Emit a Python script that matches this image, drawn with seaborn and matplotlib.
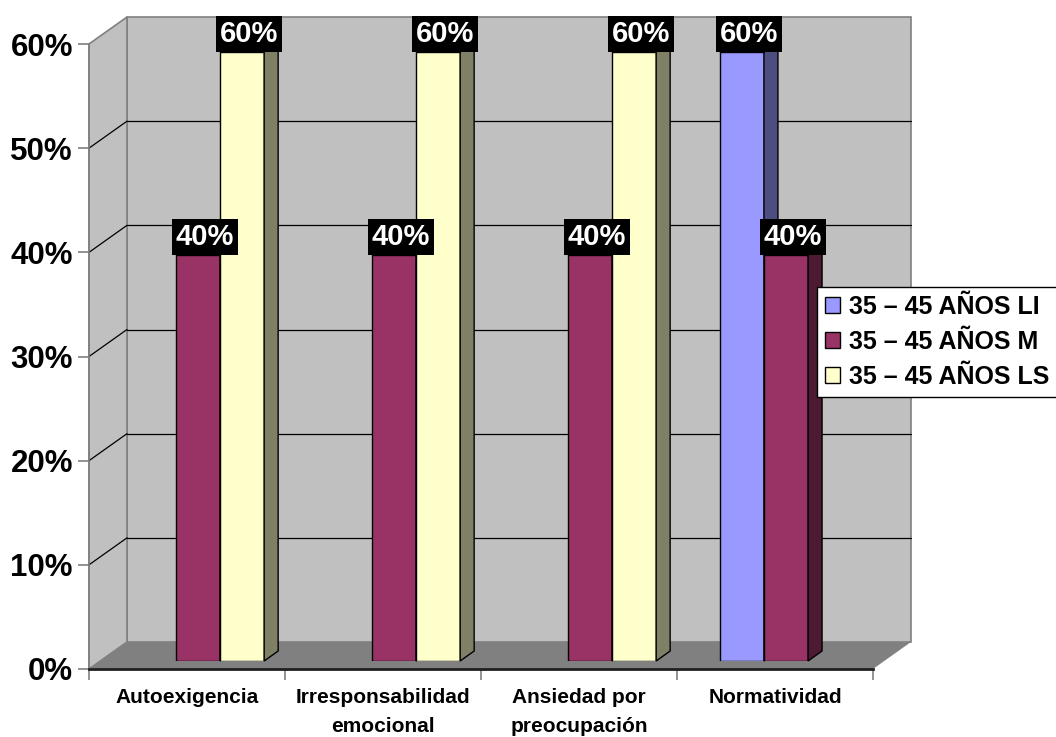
# -*- coding: utf-8 -*-
# Imports
import numpy as np
import pandas as pd
import seaborn as sns
import matplotlib.pyplot as plt
from matplotlib.colors import to_hex
from matplotlib.patches import Patch, Polygon
from matplotlib.ticker import PercentFormatter
from matplotlib.transforms import IdentityTransform


# Global parameters
CATEGORIES = ["Autoexigencia", "Irresponsabilidad\nemocional",
              "Ansiedad por\npreocupación", "Normatividad"]
SERIES = ["35 – 45 AÑOS LI", "35 – 45 AÑOS M", "35 – 45 AÑOS LS"]
LI = [np.nan, np.nan, np.nan, 0.60]
M = [0.40, 0.40, 0.40, 0.40]
LS = [0.60, 0.60, 0.60, np.nan]
YTICKS = [0.0, 0.1, 0.2, 0.3, 0.4, 0.5, 0.6]
COLORS = ["#9999ff", "#993366", "#ffffcc"]
SIDES = ["#4d4d80", "#4d1a33", "#808066"]
TOPS = ["#7373bf", "#73264d", "#bfbf99"]

W, H = 1056, 737
DEPTH = (38, 27)        # back wall offset (px)
BAR_DEPTH = (14, 10)    # bar side offset (px)


# Organize data
rows = []
for name, values in zip(SERIES, (LI, M, LS)):
    for cat, v in zip(CATEGORIES, values):
        rows.append({"categoria": cat, "serie": name, "valor": v})
df = pd.DataFrame(rows).dropna()


# Figure
sns.set_theme(style="white")
plt.rcParams["font.family"] = ["Liberation Sans", "DejaVu Sans"]
plt.rcParams["font.weight"] = "bold"
for key in ("text.color", "axes.labelcolor", "xtick.labelcolor",
            "ytick.labelcolor"):
    plt.rcParams[key] = "black"
fig = plt.figure(figsize=(W / 100, H / 100), dpi=100)

# front plane / walls
ax = fig.add_axes([89 / W, (H - 669) / H, (873 - 89) / W, (669 - 44) / H])
ax.set_xlim(-0.5, 3.5)
ax.set_ylim(0, 0.6)
ax.set_facecolor("none")
ddx = 4 * DEPTH[0] / (873 - 89)
ddy = 0.6 * DEPTH[1] / (669 - 44)
x0, x1, top = -0.5, 3.5, YTICKS[-1]
ax.add_patch(Polygon([(x0 + ddx, ddy), (x1 + ddx, ddy), (x1 + ddx, top + ddy),
                      (x0 + ddx, top + ddy)], closed=True, fc="#c0c0c0",
                     ec="#808080", lw=1.2, zorder=0.5, clip_on=False))
ax.add_patch(Polygon([(x0, 0), (x0, top), (x0 + ddx, top + ddy),
                      (x0 + ddx, ddy)], closed=True, fc="#c0c0c0",
                     ec="#808080", lw=1.2, zorder=0.5, clip_on=False))
ax.add_patch(Polygon([(x0, 0), (x1, 0), (x1 + ddx, ddy), (x0 + ddx, ddy)],
                     closed=True, fc="#808080", ec="none", zorder=0.5,
                     clip_on=False))
for y in YTICKS[1:-1]:
    ax.plot([x0 + ddx, x1 + ddx], [y + ddy, y + ddy], color="black", lw=0.9,
            zorder=0.6, clip_on=False)
    ax.plot([x0, x0 + ddx], [y, y + ddy], color="black", lw=0.9,
            zorder=0.6, clip_on=False)
ax.spines["top"].set_visible(False)
ax.spines["right"].set_visible(False)
ax.spines["left"].set_color("#808080")
ax.spines["left"].set_linewidth(1.2)
ax.spines["bottom"].set_color("#202020")
ax.spines["bottom"].set_linewidth(2)
ax.set_yticks(YTICKS)
ax.yaxis.set_major_formatter(PercentFormatter(1, decimals=0))
ax.set_xticks(range(len(CATEGORIES)))
ax.set_xticklabels(CATEGORIES)
ax.set_xticks(np.arange(len(CATEGORIES) + 1) - 0.5, minor=True)
ax.tick_params(axis="y", left=True, length=8, width=1.2, color="#808080",
               labelcolor="black", pad=3.6, labelsize=22.5)
ax.tick_params(axis="x", which="major", bottom=True, length=0, pad=14,
               labelcolor="black", labelsize=15)
ax.tick_params(axis="x", which="minor", bottom=True, length=8, width=1.2,
               color="#808080")
for lbl in ax.get_xticklabels():
    lbl.set_linespacing(1.62)

# bars
axb = fig.add_axes([100 / W, (H - 661) / H, (873 - 89) / W, (661 - 52) / H],
                   zorder=1)
sns.barplot(data=df, x="categoria", y="valor", hue="serie",
            order=CATEGORIES, hue_order=SERIES, palette=COLORS,
            saturation=1, width=0.675, errorbar=None, edgecolor="black",
            linewidth=1, legend=False, ax=axb)
axb.set_xlim(-0.5, 3.5)
axb.set_ylim(0, 0.6)
axb.axis("off")
dx, dy = BAR_DEPTH
for patch in list(axb.patches):
    h = patch.get_height()
    if not h > 0:
        continue
    k = COLORS.index(to_hex(patch.get_facecolor()))
    patch.set_zorder(2 + 2 * k)
    w = patch.get_width()
    px0, py0 = axb.transData.transform((patch.get_x(), 0))
    px1, py1 = axb.transData.transform((patch.get_x() + w, h))
    side = Polygon([(px1, py0), (px1 + dx, py0 + dy), (px1 + dx, py1 + dy),
                    (px1, py1)], closed=True, fc=SIDES[k], ec="black", lw=1,
                   transform=IdentityTransform(), zorder=3 + 2 * k,
                   clip_on=False)
    cap = Polygon([(px0, py1), (px0 + dx, py1 + dy), (px1 + dx, py1 + dy),
                   (px1, py1)], closed=True, fc=TOPS[k], ec="black", lw=1,
                  transform=IdentityTransform(), zorder=3 + 2 * k,
                  clip_on=False)
    axb.add_artist(side)
    axb.add_artist(cap)
    axb.annotate(f"{h:.0%}", xy=(patch.get_x() + w / 2, h),
                 xytext=(dx / 2 * 0.72, 2.8), textcoords="offset points",
                 ha="center", va="bottom", color="white", fontsize=21,
                 fontweight="bold", zorder=20, annotation_clip=False,
                 bbox=dict(boxstyle="square,pad=0.13", fc="black",
                           ec="none"))

# legend
handles = [Patch(facecolor=c, edgecolor="black", lw=1) for c in COLORS]
fig.legend(handles, SERIES, loc="upper left",
           bbox_to_anchor=(817 / W, (H - 287) / H), borderaxespad=0,
           frameon=True, fancybox=False, edgecolor="black", framealpha=1,
           fontsize=18, handlelength=0.62, handleheight=0.62,
           handletextpad=0.35, labelspacing=0.45, borderpad=0.3)

fig.savefig("out.png", dpi=100)
